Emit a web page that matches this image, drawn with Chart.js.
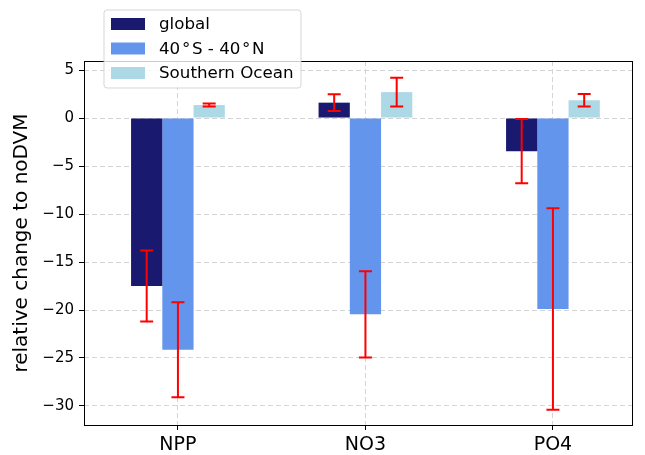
<!DOCTYPE html>
<html>
<head>
<meta charset="utf-8">
<script src="https://cdn.jsdelivr.net/npm/chart.js@4"></script>
<style>
  html, body { margin: 0; padding: 0; background: #ffffff; }
  canvas { display: block; }
</style>
</head>
<body>
<canvas id="chart" width="645" height="455"></canvas>
<script>
// Relative change (%) with DVM vs. the noDVM run, per variable and region
const categories = ['NPP', 'NO3', 'PO4'];
const seriesLabels = ['global', '40\u200a°\u200aS - 40\u200a°\u200aN', 'Southern Ocean'];

const globalValues   = [-17.5, 1.6, -3.45];
const globalErrors   = [3.7, 0.87, 3.35];
const tropicsValues  = [-24.15, -20.45, -19.9];
const tropicsErrors  = [4.95, 4.5, 10.5];
const southernValues = [1.35, 2.7, 1.85];
const southernErrors = [0.15, 1.5, 0.65];

const yTicks = [5, 0, -5, -10, -15, -20, -25, -30];
const seriesColors = ['#191970', '#6495ED', '#ADD8E6'];

const FONT = "'DejaVu Sans', 'Liberation Sans', sans-serif";

function toPoints(values) {
  return values.map((v, i) => ({ x: i, y: v }));
}

const valueSets = [globalValues, tropicsValues, southernValues];
const errorSets = [globalErrors, tropicsErrors, southernErrors];

const datasets = valueSets.map((vals, i) => ({
  label: seriesLabels[i],
  data: toPoints(vals),
  errors: errorSets[i],
  backgroundColor: seriesColors[i],
  borderWidth: 0,
  categoryPercentage: 0.5,
  barPercentage: 1.0
}));

// Red error bars with caps, placed on each bar through the y scale
const errorBars = {
  id: 'errorBars',
  afterDatasetsDraw(chart) {
    const ctx = chart.ctx;
    const yScale = chart.scales.y;
    const cap = 6.5;
    ctx.save();
    ctx.strokeStyle = '#ff0000';
    ctx.lineWidth = 2;
    chart.data.datasets.forEach((ds, i) => {
      const meta = chart.getDatasetMeta(i);
      meta.data.forEach((bar, j) => {
        const v = ds.data[j].y;
        const e = ds.errors[j];
        const top = yScale.getPixelForValue(v + e);
        const bot = yScale.getPixelForValue(v - e);
        const x = bar.x;
        ctx.beginPath();
        ctx.moveTo(x, top); ctx.lineTo(x, bot);
        ctx.moveTo(x - cap, top); ctx.lineTo(x + cap, top);
        ctx.moveTo(x - cap, bot); ctx.lineTo(x + cap, bot);
        ctx.stroke();
      });
    });
    ctx.restore();
  }
};

// Black frame around the plot area, then the boxed legend on top
const frameAndLegend = {
  id: 'frameAndLegend',
  afterDraw(chart) {
    const ctx = chart.ctx;
    const a = chart.chartArea;
    ctx.save();
    ctx.strokeStyle = '#000000';
    ctx.lineWidth = 1;
    ctx.strokeRect(a.left + 0.5, a.top + 0.5, a.right - a.left - 1, a.bottom - a.top);

    // legend box
    const bx = 104, by = 10, bw = 197, bh = 78, r = 3;
    ctx.beginPath();
    ctx.moveTo(bx + r, by);
    ctx.lineTo(bx + bw - r, by);
    ctx.arcTo(bx + bw, by, bx + bw, by + r, r);
    ctx.lineTo(bx + bw, by + bh - r);
    ctx.arcTo(bx + bw, by + bh, bx + bw - r, by + bh, r);
    ctx.lineTo(bx + r, by + bh);
    ctx.arcTo(bx, by + bh, bx, by + bh - r, r);
    ctx.lineTo(bx, by + r);
    ctx.arcTo(bx, by, bx + r, by, r);
    ctx.closePath();
    ctx.globalAlpha = 0.8;
    ctx.fillStyle = '#ffffff';
    ctx.fill();
    ctx.strokeStyle = '#cccccc';
    ctx.stroke();
    ctx.globalAlpha = 1;

    ctx.font = '16.7px ' + FONT;
    ctx.textBaseline = 'middle';
    ctx.textAlign = 'left';
    chart.data.datasets.forEach((ds, i) => {
      const cy = 24 + i * 24.5;
      ctx.fillStyle = ds.backgroundColor;
      ctx.fillRect(111, cy - 6, 34, 12);
      ctx.fillStyle = '#000000';
      ctx.fillText(ds.label, 159, cy + 1);
    });
    ctx.restore();
  }
};

new Chart(document.getElementById('chart'), {
  type: 'bar',
  data: { datasets },
  options: {
    responsive: false,
    animation: false,
    devicePixelRatio: 1,
    layout: { padding: { left: 0, top: 61, right: 12, bottom: 0 } },
    plugins: {
      legend: { display: false },
      tooltip: { enabled: false }
    },
    scales: {
      x: {
        type: 'linear',
        min: -0.501,
        max: 2.427,
        offset: false,
        afterFit(scale) { scale.height = 30; },
        afterBuildTicks(scale) {
          scale.ticks = categories.map((c, i) => ({ value: i }));
        },
        ticks: {
          callback: (v) => categories[v],
          color: '#000000',
          font: { family: FONT, size: 19 },
          padding: 4,
          maxRotation: 0,
          autoSkip: false
        },
        grid: {
          offset: false,
          color: '#d4d4d4',
          lineWidth: 1,
          drawTicks: true,
          tickLength: 5,
          tickColor: '#000000',
          tickWidth: 1,
          tickBorderDash: []
        },
        border: { display: false, dash: [5, 3] }
      },
      y: {
        type: 'linear',
        min: -31.98,
        max: 5.94,
        afterFit(scale) { scale.width = 84; },
        afterBuildTicks(scale) {
          scale.ticks = yTicks.map(v => ({ value: v }));
        },
        ticks: {
          callback: (v) => String(v).replace('-', '\u2212'),
          color: '#000000',
          font: { family: FONT, size: 15 },
          padding: 5
        },
        grid: {
          color: '#d4d4d4',
          lineWidth: 1,
          drawTicks: true,
          tickLength: 5,
          tickColor: '#000000',
          tickWidth: 1,
          tickBorderDash: []
        },
        border: { display: false, dash: [5, 3] },
        title: {
          display: true,
          text: 'relative change to noDVM',
          color: '#000000',
          font: { family: FONT, size: 20 },
          padding: { top: 10, bottom: 0 }
        }
      }
    }
  },
  plugins: [errorBars, frameAndLegend]
});
</script>
</body>
</html>
